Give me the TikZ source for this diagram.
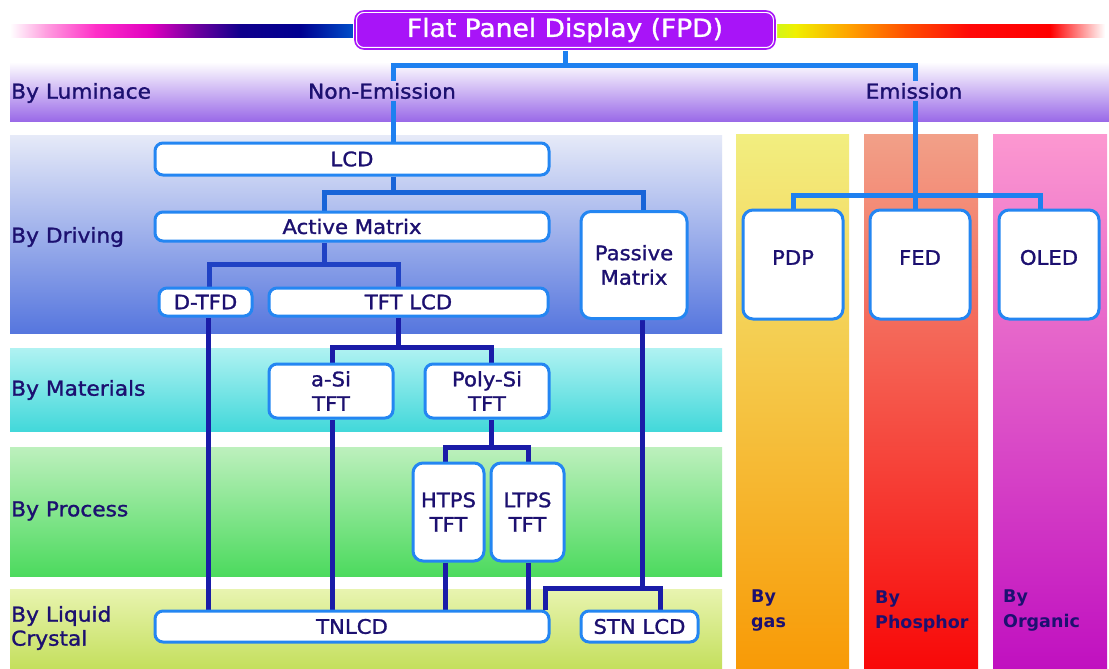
\documentclass[tikz,border=0pt]{standalone}
\usepackage{fontspec}
\setmainfont[FakeStretch=1.06, RawFeature={embolden=1.3}]{DejaVu Sans}
\newfontfamily\tagfont[FakeStretch=1.0]{DejaVu Sans Bold}

\definecolor{ink}{HTML}{1C1070}
\definecolor{boxblue}{HTML}{2486F2}
\definecolor{fpdpurple}{HTML}{A814F8}
\definecolor{linkA}{HTML}{1E80F0}
\definecolor{linkB}{HTML}{1864D8}
\definecolor{linkC}{HTML}{2042C4}
\definecolor{linkD}{HTML}{1A1CA8}

\pgfdeclarelayer{bands}
\pgfdeclarelayer{links}
\pgfsetlayers{bands,links,main}

\tikzset{
  box/.style={draw=boxblue, line width=3pt, fill=white, rounded corners=8pt,
    inner sep=0pt, text=ink, align=center,
    font=\fontsize{20}{24.5}\selectfont},
  bigbox/.style={box, rounded corners=10pt},
  rowlabel/.style={anchor=west, inner sep=0pt, text=ink, align=left,
    font=\fontsize{20.5}{24}\selectfont},
  collabel/.style={anchor=west, inner sep=0pt, text=ink, align=left,
    font=\tagfont\fontsize{17.5}{25}\selectfont},
  headlabel/.style={inner sep=2pt, text=ink, font=\fontsize{20.5}{24}\selectfont},
  boxlabel/.style={text=ink, font=\fontsize{20}{24}\selectfont, yshift=7pt},
  linkA/.style={draw=linkA, line width=5pt},
  linkB/.style={draw=linkB, line width=5pt},
  linkC/.style={draw=linkC, line width=5pt},
  linkD/.style={draw=linkD, line width=5pt},
}

\begin{document}
\begin{tikzpicture}[x=1pt,y=-1pt]
\useasboundingbox (0,0) rectangle (1109,669);

\begin{pgfonlayer}{bands}
\fill[white] (0,0) rectangle (1109,669);

% colour bar behind the title
\shade[left color=white, right color={rgb,255:red,255;green,160;blue,224}] (10,25) rectangle (45.5,38);
\shade[left color={rgb,255:red,255;green,160;blue,224}, right color={rgb,255:red,255;green,48;blue,200}] (45,25) rectangle (95.5,38);
\shade[left color={rgb,255:red,255;green,48;blue,200}, right color={rgb,255:red,224;green,0;blue,192}] (95,25) rectangle (150.5,38);
\shade[left color={rgb,255:red,224;green,0;blue,192}, right color={rgb,255:red,112;green,0;blue,160}] (150,25) rectangle (195.5,38);
\shade[left color={rgb,255:red,112;green,0;blue,160}, right color={rgb,255:red,16;green,0;blue,140}] (195,25) rectangle (240.5,38);
\shade[left color={rgb,255:red,16;green,0;blue,140}, right color={rgb,255:red,0;green,0;blue,144}] (240,25) rectangle (300.5,38);
\shade[left color={rgb,255:red,0;green,0;blue,144}, right color={rgb,255:red,0;green,88;blue,208}] (300,25) rectangle (360,38);

\shade[left color={rgb,255:red,200;green,248;blue,32}, right color={rgb,255:red,240;green,240;blue,0}] (770,25) rectangle (795.5,38);
\shade[left color={rgb,255:red,240;green,240;blue,0}, right color={rgb,255:red,255;green,160;blue,0}] (795,25) rectangle (850.5,38);
\shade[left color={rgb,255:red,255;green,160;blue,0}, right color={rgb,255:red,255;green,80;blue,0}] (850,25) rectangle (905.5,38);
\shade[left color={rgb,255:red,255;green,80;blue,0}, right color={rgb,255:red,255;green,8;blue,8}] (905,25) rectangle (970.5,38);
\shade[left color={rgb,255:red,255;green,8;blue,8}, right color={rgb,255:red,255;green,0;blue,0}] (970,25) rectangle (1050.5,38);
\shade[left color={rgb,255:red,255;green,0;blue,0}, right color=white] (1050,25) rectangle (1105,38);

% category bands
\shade[top color=white, bottom color={rgb,255:red,154;green,106;blue,232}] (10,62) rectangle (1109,121);
\shade[top color={rgb,255:red,230;green,234;blue,248}, bottom color={rgb,255:red,86;green,118;blue,222}] (10,135) rectangle (722,333);
\shade[top color={rgb,255:red,176;green,242;blue,242}, bottom color={rgb,255:red,66;green,216;blue,218}] (10,348) rectangle (722,431);
\shade[top color={rgb,255:red,189;green,240;blue,189}, bottom color={rgb,255:red,76;green,218;blue,94}] (10,447) rectangle (722,576);
\shade[top color={rgb,255:red,232;green,244;blue,176}, bottom color={rgb,255:red,196;green,223;blue,92}] (10,589) rectangle (722,669);

\shade[top color={rgb,255:red,242;green,238;blue,128}, bottom color={rgb,255:red,248;green,154;blue,6}] (736,134) rectangle (849,669);
\shade[top color={rgb,255:red,242;green,160;blue,136}, bottom color={rgb,255:red,248;green,8;blue,8}] (864,134) rectangle (978,669);
\shade[top color={rgb,255:red,252;green,152;blue,208}, bottom color={rgb,255:red,192;green,16;blue,192}] (993,134) rectangle (1107,669);
\end{pgfonlayer}

% row and column labels
\node[rowlabel] (lLum) at (11,93) {By Luminace};
\node[rowlabel] (lDrv) at (11,237) {By Driving};
\node[rowlabel] (lMat) at (11,390) {By Materials};
\node[rowlabel] (lPro) at (11,511) {By Process};
\node[rowlabel] (lLiq) at (11,628) {By Liquid\\Crystal};
\node[collabel] (lGas) at (751,611) {By\\gas};
\node[collabel] (lPho) at (875,611) {By\\Phosphor};
\node[collabel] (lOrg) at (1003,611) {By\\Organic};

% title and luminance split
\node[draw=white, double=fpdpurple, double distance=1.6pt, line width=1.2pt,
      fill=fpdpurple, rounded corners=9pt, minimum width=420pt, minimum height=38pt,
      text=white, font=\fontsize{25}{28}\selectfont] (fpd) at (565,30) {Flat Panel Display (FPD)};
\node[headlabel] (nonem) at (382,91) {Non-Emission};
\node[headlabel] (em) at (914,91) {Emission};

% boxes
\node[box, minimum width=394pt, minimum height=32pt] (lcd) at (352,159) {LCD};
\node[box, minimum width=394pt, minimum height=29pt] (am) at (352,226.5) {Active Matrix};
\node[bigbox, minimum width=106pt, minimum height=107pt] (pm) at (634,265) {Passive\\Matrix};
\node[box, minimum width=93pt, minimum height=28pt] (dtfd) at (205.5,302) {D-TFD};
\node[box, minimum width=279pt, minimum height=28pt] (tft) at (408.5,302) {TFT LCD};
\node[box, minimum width=124pt, minimum height=54pt] (asi) at (331,391) {a-Si\\TFT};
\node[box, minimum width=124pt, minimum height=54pt] (psi) at (487,391) {Poly-Si\\TFT};
\node[bigbox, minimum width=71pt, minimum height=98pt] (htps) at (448.5,512) {HTPS\\TFT};
\node[bigbox, minimum width=73pt, minimum height=98pt] (ltps) at (527.5,512) {LTPS\\TFT};
\node[box, minimum width=394pt, minimum height=31pt] (tn) at (352,626.5) {TNLCD};
\node[box, minimum width=117pt, minimum height=31pt] (stn) at (639.5,626.5) {STN LCD};
\node[bigbox, minimum width=100pt, minimum height=109pt, label={[boxlabel]center:PDP}] (pdp) at (793,264.5) {};
\node[bigbox, minimum width=100pt, minimum height=109pt, label={[boxlabel]center:FED}] (fed) at (920,264.5) {};
\node[bigbox, minimum width=100pt, minimum height=109pt, label={[boxlabel]center:OLED}] (oled) at (1049,264.5) {};

% junction points of the tree
\coordinate (jL) at (393,66);
\coordinate (jR) at (915,66);
\coordinate (jEm) at (915,195);
\coordinate (jLcd) at (393,192);
\coordinate (jAmL) at (324,192);
\coordinate (jPmT) at (643,192);
\coordinate (jAm) at (324,264);
\coordinate (jTft) at (398,347);
\coordinate (jPsi) at (491,447);
\coordinate (jPm) at (642,588);
\coordinate (jTnR) at (545,588);
\coordinate (jStn) at (660,588);

\begin{pgfonlayer}{links}
% luminance level
\draw[linkA] (fpd.south) -- (fpd.south |- jL);
\draw[linkA] (nonem.north -| jL) -- (jL) -- (jR) -- (em.north -| jR);
\draw[linkA] (nonem.south -| jL) -- (lcd.north -| jL);
\draw[linkA] (em.south -| jR) -- (jEm);
\draw[linkA] (pdp.north) |- (jEm) -| (oled.north -| 1040,0);
\draw[linkA] (jEm) -- (fed.north -| jEm);
% driving level
\draw[linkB] (lcd.south -| jLcd) -- (jLcd);
\draw[linkB] (am.north -| jAmL) -- (jAmL) -- (jPmT) -- (pm.north -| jPmT);
\draw[linkC] (am.south -| jAm) -- (jAm);
\draw[linkC] (dtfd.north -| 209,0) |- (jAm) -| (tft.north -| jTft);
% materials, process and liquid crystal levels
\draw[linkD] (dtfd.south -| 208,0) -- (tn.north -| 208,0);
\draw[linkD] (tft.south -| jTft) -- (jTft);
\draw[linkD] (asi.north -| 332,0) |- (jTft) -| (psi.north -| jPsi);
\draw[linkD] (asi.south -| 332,0) -- (tn.north -| 332,0);
\draw[linkD] (psi.south -| jPsi) -- (jPsi);
\draw[linkD] (htps.north -| 445,0) |- (jPsi) -| (ltps.north -| 528,0);
\draw[linkD] (htps.south -| 445,0) -- (tn.north -| 445,0);
\draw[linkD] (ltps.south -| 528,0) -- (tn.north -| 528,0);
\draw[linkD] (pm.south -| jPm) -- (jPm);
\draw[linkD] (tn.north -| jTnR) -- (jTnR) -- (jStn) -- (stn.north -| jStn);
\end{pgfonlayer}
\end{tikzpicture}
\end{document}
